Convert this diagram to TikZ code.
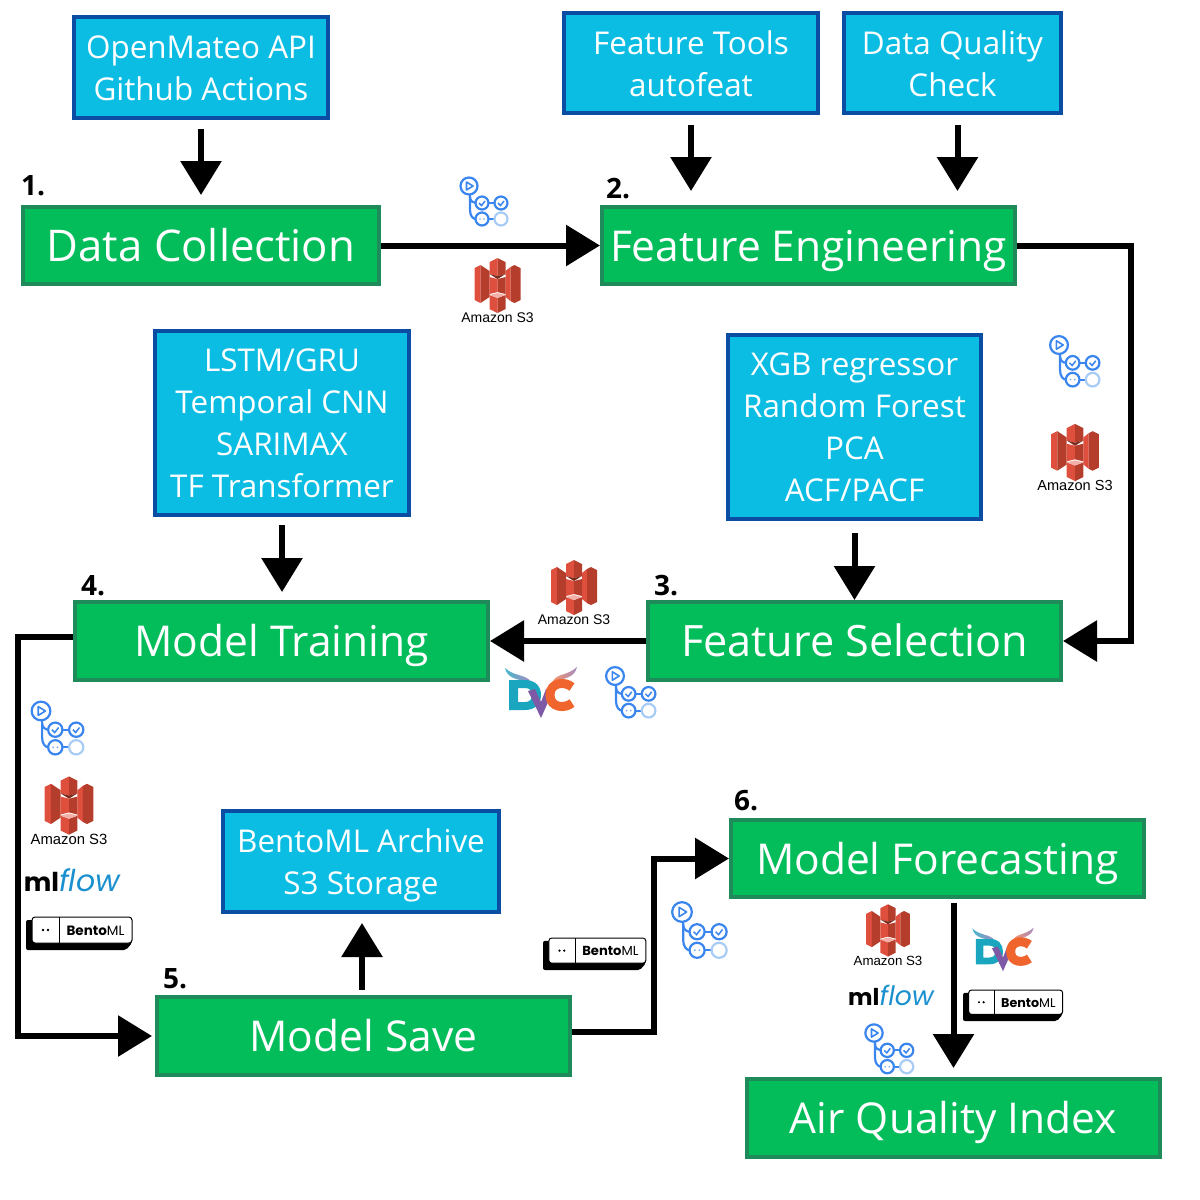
\documentclass[tikz,border=0pt]{standalone}
\usepackage{fontspec}
\setmainfont{Open Sans}
\newfontfamily\awsfont{Liberation Sans}
\newfontfamily\logofont{Poppins}
\usetikzlibrary{arrows.meta,positioning}
\definecolor{toolfill}{HTML}{0CBDE3}
\definecolor{tooledge}{HTML}{0B4DA2}
\definecolor{stepfill}{HTML}{03BD5B}
\definecolor{stepedge}{HTML}{1F8A5A}
\definecolor{ghablue}{HTML}{3A85EE}
\definecolor{ghapale}{HTML}{A9CCF7}
\definecolor{sthree}{HTML}{DF4F3E}
\definecolor{sthreedark}{HTML}{B53D2C}
\definecolor{sthreedeep}{HTML}{7A2A1E}
\definecolor{sthreelight}{HTML}{F2B0A9}
\definecolor{dvcteal}{HTML}{1AA6BE}
\definecolor{dvcpurple}{HTML}{7E5AA6}
\definecolor{dvcorange}{HTML}{F0642E}
\definecolor{mlblue}{HTML}{1B90CE}
\tikzset{toolbox/.style={rectangle,fill=toolfill,draw=tooledge,line width=4,inner sep=0pt,align=center,text=white,text height=66,text depth=0,font=\fontsize{31.4}{42}\selectfont},
         stepbox/.style={rectangle,fill=stepfill,draw=stepedge,line width=4,inner sep=0pt,text=white,text height=31,text depth=0,font=\fontsize{42.5}{48}\selectfont,minimum width=413,minimum height=78},
         steplabel/.style={inner sep=0pt,font=\fontsize{28}{30}\selectfont\bfseries},
         flow/.style={draw=black,line width=6,-{Triangle[width=40,length=34]}},
         icon text/.style={inner sep=0pt,transform shape},
         gha/.pic={
             \draw[ghablue,line width=2.2] (0,0) circle (8.5);
             \draw[ghablue,line width=1.6,line join=round] (-2.5,-4) -- (4,0) -- (-2.5,4) -- cycle;
             \draw[ghablue,line width=2.2] (1,9) -- (1,24) .. controls (1,30) and (4,33) .. (7,33);
             \draw[ghablue,line width=2.2] (1,11) .. controls (1,15) and (4,17) .. (7,17);
             \draw[ghablue,line width=2.2] (13,17) circle (6.5) (32,17) circle (6.5) (13,33) circle (6.5);
             \draw[ghablue,line width=2.2] (19,17) -- (26,17) (19,33) -- (26,33);
             \draw[ghablue,line width=1.5] (10,17) -- (12.5,19.5) -- (16,15) (29,17) -- (31.5,19.5) -- (35,15);
             \fill[ghablue!70] (11,33) circle (.9) (15,33) circle (.9);
             \draw[ghapale,line width=2.2] (32,33) circle (6.5);
         },
         s3/.pic={
             \fill[sthree] (-23,-17) -- (-17,-20) -- (-17,18) -- (-23,15) -- cycle;
             \fill[sthreedark] (-17,-20) -- (-8,-14) -- (-8,12) -- (-17,18) -- cycle;
             \fill[sthree] (8,-14) -- (13,-18) -- (13,16) -- (8,12) -- cycle;
             \fill[sthreedark] (13,-18) -- (17,-20) -- (23,-17) -- (23,15) -- (17,18) -- (13,16) -- cycle;
             \fill[sthree] (-8,-23) -- (0,-27) -- (0,-9) -- (-8,-11) -- cycle;
             \fill[sthreedark] (0,-27) -- (8,-23) -- (8,-11) -- (0,-9) -- cycle;
             \fill[sthreedeep] (-8,-11) -- (0,-9) -- (8,-11) -- (0,-6) -- cycle;
             \fill[sthree] (-8,-8) -- (0,-6) -- (0,7) -- (-8,9) -- cycle;
             \fill[sthreedark] (0,-6) -- (8,-8) -- (8,9) -- (0,7) -- cycle;
             \fill[sthree] (-8,10) -- (0,13) -- (0,28) -- (-8,24) -- cycle;
             \fill[sthreedark] (0,13) -- (8,10) -- (8,24) -- (0,28) -- cycle;
             \fill[sthreelight] (-8,10) -- (0,8) -- (8,10) -- (0,13) -- cycle;
             \node[icon text,font=\fontsize{14}{14}\awsfont] (label) at (0,32.5) {Amazon S3};
         },
         dvc/.pic={
             \shade[left color=dvcteal!80,right color=dvcpurple!70] (-36,-24) .. controls (-34,-14) and (-24,-12) .. (-10,-10) .. controls (-15,-18) and (-26,-15) .. (-36,-24) -- cycle;
             \shade[left color=dvcorange!70,right color=dvcpurple!70] (36,-25) .. controls (34,-15) and (24,-13) .. (12,-11) .. controls (17,-19) and (26,-16) .. (36,-25) -- cycle;
             \fill[dvcteal,even odd rule] (-32,-12) -- (-16,-12) .. controls (-5,-12) and (0,-5) .. (0,3) .. controls (0,12) and (-6,18) .. (-16,18) -- (-32,18) -- cycle
                 (-23,-4) -- (-16,-4) .. controls (-11,-4) and (-9,-1) .. (-9,3) .. controls (-9,7) and (-11,10) .. (-16,10) -- (-23,10) -- cycle;
             \fill[dvcpurple] (-13,-1) -- (-6,-3) -- (0,10) -- (5,-3) -- (12,-1) -- (0,26) -- cycle;
             \draw[dvcorange,line width=9] (31,-5) .. controls (24,-11) and (9,-10) .. (9,3) .. controls (9,16) and (24,17) .. (31,11);
         },
         mlflow/.pic={
             \node[icon text,font=\logofont] (label) at (0,0) {{\color{black}\fontseries{sb}\fontsize{26}{30}\selectfont ml}{\color{mlblue}\itshape\fontsize{30}{30}\selectfont flow}};
         },
         bento/.pic={
             \fill[black,rounded corners=2] (0,3) -- (6,3) -- (106,20) -- (106,26) -- (100,33) -- (0,33) -- cycle;
             \draw[black,fill=white,line width=1,rounded corners=3] (6,0) rectangle (106,26);
             \draw[black,line width=1] (33,0) -- (33,26);
             \fill[black] (17,13) circle (1.3) (22,13) circle (1.3);
             \node[icon text,font=\fontsize{13.5}{14}\logofont] (label) at (69.5,13.5) {\textbf{Bento}ML};
         }
}
\begin{document}
\begin{tikzpicture}[x=1pt,y=-1pt]
\useasboundingbox (0,0) rectangle (1200,1200);
% tools
\node[toolbox,minimum width=254,minimum height=101] (omapi) at (201,67.5) {OpenMateo API\\Github Actions};
\node[toolbox,minimum width=254,minimum height=100] (ftools) at (691,63) {Feature Tools\\autofeat};
\node[toolbox,minimum width=217,minimum height=100] (dqcheck) at (952.5,63) {Data Quality\\Check};
\node[toolbox,text height=148,minimum width=254,minimum height=184] (lstm) at (282,423) {LSTM/GRU\\Temporal CNN\\SARIMAX\\TF Transformer};
\node[toolbox,text height=148,minimum width=253,minimum height=184] (xgb) at (854.5,427) {XGB regressor\\Random Forest\\PCA\\ACF/PACF};
\node[toolbox,minimum width=276,minimum height=101] (archive) at (361,861.5) {BentoML Archive\\S3 Storage};
% steps
\node[stepbox,minimum width=356,minimum height=77,font=\fontsize{43.7}{48}\selectfont] (dcoll) at (201,245.5) {Data Collection};
\node[stepbox,minimum height=77] (feng) at (808.5,245.5) {Feature Engineering};
\node[stepbox] (mtrain) at (281.5,641) {Model Training};
\node[stepbox,font=\fontsize{43.2}{48}\selectfont] (fsel) at (854.5,641) {Feature Selection};
\node[stepbox] (msave) at (363.5,1036) {Model Save};
\node[stepbox,minimum height=77] (mfore) at (937.5,858.5) {Model Forecasting};
\node[stepbox] (aqi) at (953.5,1118) {Air Quality Index};
% numbers
\node[steplabel] (n1) at (33,186) {1.};
\node[steplabel] (n2) at (618,189) {2.};
\node[steplabel] (n3) at (666,586) {3.};
\node[steplabel] (n4) at (93,586) {4.};
\node[steplabel] (n5) at (175,979) {5.};
\node[steplabel] (n6) at (746,801) {6.};
% connectors
\draw[flow,shorten <=9,shorten >=10] (omapi) -- (dcoll);
\draw[flow,shorten <=10,shorten >=14] (ftools.south) -- (ftools.south |- feng.north);
\draw[flow,shorten <=10,shorten >=14] ([xshift=5]dqcheck.south) -- ([xshift=5]dqcheck.south |- feng.north);
\draw[flow] (dcoll) -- (feng);
\draw[flow] (feng.east) -- ++(114,0) |- (fsel.east);
\draw[flow,shorten <=12] (xgb) -- (fsel);
\draw[flow] (fsel) -- (mtrain);
\draw[flow,shorten <=8,shorten >=8] (lstm) -- (lstm |- mtrain.north);
\draw[flow,shorten >=3] ([yshift=4]mtrain.west) -- ++(-55,0) |- (msave.west);
\draw[flow,shorten <=5,shorten >=9] ([xshift=1]archive.south |- msave.north) -- ([xshift=1]archive.south);
\draw[flow] ([yshift=4]msave.east) -- ++(82,0) |- (mfore.west);
\draw[flow,shorten <=4,shorten >=9] (mfore.south -| aqi) -- (aqi);
% icons
\pic (ghaa) at (469,186) {gha};
\pic[scale=1.05] (ghab) at (1059,345) {gha};
\pic[scale=1.05] (ghac) at (615,676) {gha};
\pic[scale=1.1] (ghad) at (41,711) {gha};
\pic[scale=1.16] (ghae) at (682,912) {gha};
\pic[scale=1.02] (ghaf) at (874,1033) {gha};
\pic (s3a) at (497.5,285) {s3};
\pic[scale=1.04] (s3b) at (1075,452) {s3};
\pic (s3c) at (574,587) {s3};
\pic[scale=1.06] (s3d) at (69,805) {s3};
\pic[scale=.95] (s3e) at (888,930) {s3};
\pic (dvca) at (541,692) {dvc};
\pic[scale=.85] (dvcb) at (1003,949) {dvc};
\pic (mlfa) at (72,880) {mlflow};
\pic[scale=.89] (mlfb) at (891,995) {mlflow};
\pic (bena) at (26,917) {bento};
\pic[scale=.97] (benb) at (543,938) {bento};
\pic[scale=.94] (benc) at (963,990) {bento};
\end{tikzpicture}
\end{document}
